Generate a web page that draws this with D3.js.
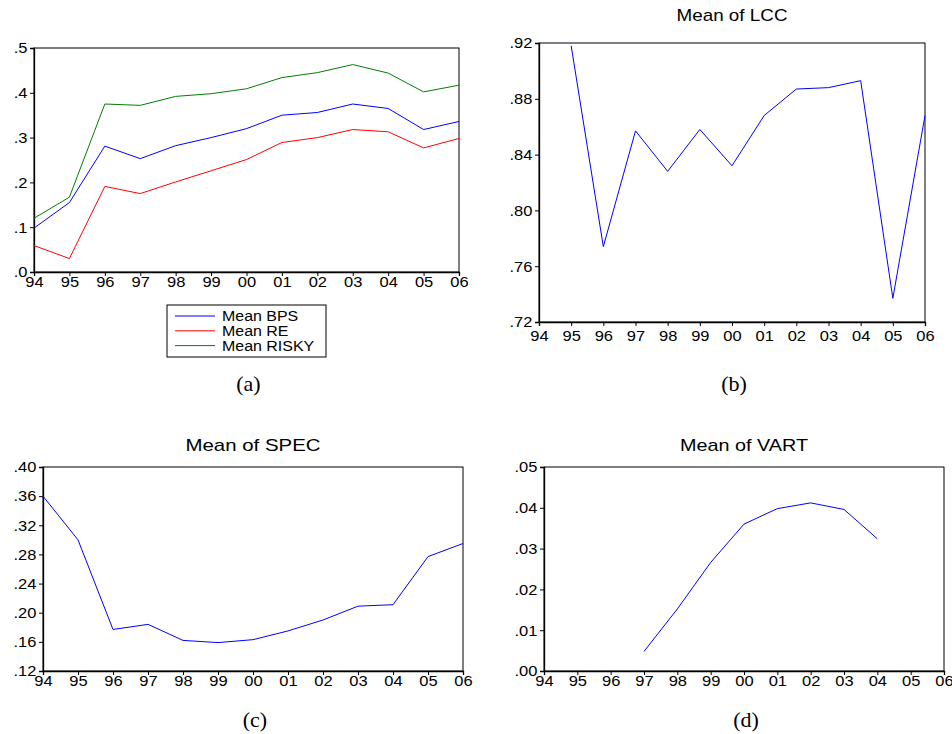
<!DOCTYPE html>
<html>
<head>
<meta charset="utf-8">
<script src="https://cdn.jsdelivr.net/npm/d3@7"></script>
<style>
    body { margin: 0; background: #fff; }
    svg { display: block; }
    text { font-family: "Liberation Sans", Arial, sans-serif; fill: #000; }
    .cap { font-family: "Liberation Serif", "Times New Roman", serif; }
</style>
</head>
<body>
<svg id="chart" width="952" height="734"></svg>
<script>
const years = ["94", "95", "96", "97", "98", "99", "00", "01", "02", "03", "04", "05", "06"]

// panel (a)
const meanBPS = [0.098, 0.155, 0.281, 0.253, 0.282, 0.300, 0.320, 0.350, 0.356, 0.375, 0.365, 0.318, 0.336]
const meanRE = [0.059, 0.030, 0.191, 0.175, 0.201, 0.226, 0.251, 0.289, 0.300, 0.318, 0.313, 0.277, 0.298]
const meanRISKY = [0.120, 0.167, 0.375, 0.372, 0.392, 0.398, 0.409, 0.434, 0.445, 0.463, 0.444, 0.402, 0.417]
// panel (b)
const meanLCC = [null, 0.918, 0.774, 0.857, 0.828, 0.858, 0.832, 0.868, 0.887, 0.888, 0.893, 0.737, 0.868]
// panel (c)
const meanSPEC = [0.360, 0.300, 0.177, 0.184, 0.162, 0.159, 0.163, 0.175, 0.190, 0.209, 0.211, 0.277, 0.295]
// panel (d)
const meanVART = [null, null, null, 0.0048, 0.0152, 0.0266, 0.0360, 0.0398, 0.0412, 0.0396, 0.0324, null, null]

const svg = d3.select("#chart")

// EViews text is a bit wider than Arial
const stretch = "scale(1.1,1)"

function panel({
    left, right, top, bottom, // plot frame, in pixels
    yDomain, yStep, yDigits,
    series, // [{values, color}]
    title, titleY, titleWidth,
    fontSize = 15,
    xPad = 0,
    caption, captionY
}) {
    const x = d3.scalePoint(years, [left, right])
    const y = d3.scaleLinear(yDomain, [bottom, top])
    const yTicks = d3.range(yDomain[0], yDomain[1] + yStep / 2, yStep)
    const fmt = d => d3.format("." + yDigits + "f")(d).replace(/^0/, "")

    const g = svg.append("g")

    // frame
    g.append("rect")
        .attr("x", left).attr("y", top)
        .attr("width", right - left).attr("height", bottom - top)
        .attr("fill", "none").attr("stroke", "#000").attr("stroke-width", 1)

    g.append("g")
        .attr("transform", `translate(${left},0)`)
        .call(d3.axisLeft(y).tickValues(yTicks).tickFormat(fmt).tickSizeOuter(0).tickSize(4).tickPadding(2))
        .call(a => a.select(".domain").attr("stroke-width", 1.3))
        .call(a => a.selectAll("text")
            .style("font-size", fontSize + "px")
            .style("font-family", "Liberation Sans")
            .attr("transform", stretch))

    g.append("g")
        .attr("transform", `translate(0,${bottom})`)
        .call(d3.axisBottom(x).tickSizeOuter(0).tickSize(4).tickPadding(xPad))
        .call(a => a.select(".domain").attr("stroke-width", 1.3))
        .call(a => a.selectAll("text")
            .style("font-size", fontSize + "px")
            .style("font-family", "Liberation Sans")
            .attr("transform", stretch))

    const line = d3.line()
        .defined(d => d != null)
        .x((d, i) => x(years[i]))
        .y(d => y(d))

    series.forEach(s => {
        g.append("path")
            .attr("d", line(s.values))
            .attr("fill", "none")
            .attr("stroke", s.color)
            .attr("stroke-width", 1)
    })

    if (title) g.append("text")
        .attr("x", (left + right) / 2 - titleWidth / 2)
        .attr("y", titleY)
        .attr("textLength", titleWidth)
        .attr("lengthAdjust", "spacingAndGlyphs")
        .style("font-size", "17px")
        .text(title)

    g.append("text")
        .attr("class", "cap")
        .attr("x", (left + right) / 2 + 2)
        .attr("y", captionY)
        .attr("text-anchor", "middle")
        .style("font-size", "22px")
        .text(caption)

    return g
}

const pa = panel({
    left: 34, right: 459, top: 48, bottom: 272,
    yDomain: [0, 0.5], yStep: 0.1, yDigits: 1,
    series: [
        {values: meanBPS, color: "#0000ff"},
        {values: meanRE, color: "#ff0000"},
        {values: meanRISKY, color: "#008000"}
    ],
    xPad: 0,
    caption: "(a)", captionY: 391
})

// legend for (a)
const legendItems = [
    {name: "Mean BPS", color: "#0000ff"},
    {name: "Mean RE", color: "#ff0000"},
    {name: "Mean RISKY", color: "#008000"}
]
const legend = pa.append("g").attr("transform", "translate(167,305)")
legend.append("rect")
    .attr("width", 159).attr("height", 52)
    .attr("fill", "#fff").attr("stroke", "#000").attr("stroke-width", 1)
legendItems.forEach((d, i) => {
    const yy = 11 + i * 14.8
    legend.append("line")
        .attr("x1", 8).attr("x2", 48).attr("y1", yy).attr("y2", yy)
        .attr("stroke", d.color).attr("stroke-width", 1)
    legend.append("text")
        .attr("transform", `translate(55,${yy + 5}) ${stretch}`)
        .style("font-size", "14.5px")
        .text(d.name)
})

panel({
    left: 539, right: 925, top: 43, bottom: 322,
    yDomain: [0.72, 0.92], yStep: 0.04, yDigits: 2,
    series: [{values: meanLCC, color: "#0000ff"}],
    title: "Mean of LCC", titleY: 21, titleWidth: 111,
    xPad: 4,
    caption: "(b)", captionY: 391
})

panel({
    left: 43, right: 463, top: 467, bottom: 671,
    yDomain: [0.12, 0.40], yStep: 0.04, yDigits: 2,
    series: [{values: meanSPEC, color: "#0000ff"}],
    title: "Mean of SPEC", titleY: 451, titleWidth: 135,
    xPad: 0,
    caption: "(c)", captionY: 727
})

panel({
    left: 544, right: 944, top: 467, bottom: 671,
    yDomain: [0, 0.05], yStep: 0.01, yDigits: 2,
    series: [{values: meanVART, color: "#0000ff"}],
    title: "Mean of VART", titleY: 451, titleWidth: 128,
    xPad: 0,
    caption: "(d)", captionY: 727
})
</script>
</body>
</html>
